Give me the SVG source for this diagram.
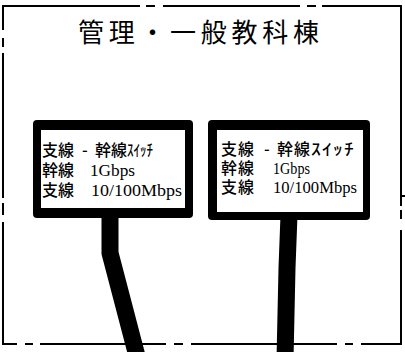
<svg xmlns="http://www.w3.org/2000/svg" width="405" height="352" viewBox="0 0 405 352">
<style>
.bd{stroke:#000;stroke-width:2;fill:none}
.jp{font-family:"Noto Sans CJK JP","Noto Sans",sans-serif;font-size:16px;font-weight:500;fill:#000}
.j2{letter-spacing:1px}
.en{font-family:"Liberation Serif","Times New Roman",serif;font-size:17px;fill:#000}
.title{font-family:"Noto Sans CJK JP","Noto Sans",sans-serif;font-size:26px;letter-spacing:4.7px;fill:#000}
.cable{stroke:#000;stroke-width:17;fill:none;stroke-linejoin:round}
</style>
<rect width="405" height="352" fill="#fff"/>
<g id="building">
<path class="bd" d="M3 6H140M146 6H155M163 6H300M307 6H316M322 6H401"/>
<path class="bd" d="M3 5V30M3 38V47M3 53V198M3 203V215M3 222V345"/>
<path class="bd" d="M401 5V206M401 210V219M401 230V345M401 196H405"/>
<path class="bd" d="M2 344H17M25 344H33M40 344H166M174 344H183M191 344H337M345 344H353M361 344H402"/>
<text class="title" x="78" y="42">管理・一般教科棟</text>
</g>
<g id="connectors">
<path class="cable" d="M110 215V253L138 360"/>
<path class="cable" d="M289 215L287 268L285 360"/>
</g>
<g id="switch1">
<rect x="33" y="120" width="160" height="98" rx="4" fill="#000"/>
<rect x="41" y="130" width="144" height="78" fill="#fff"/>
<text class="jp" x="42" y="156">支線</text>
<text class="jp" x="82" y="156">-</text>
<text class="jp" x="95" y="156">幹線<tspan textLength="26" lengthAdjust="spacingAndGlyphs">ｽｲｯﾁ</tspan></text>
<text class="jp" x="42" y="176">幹線</text>
<text class="en" x="90" y="176" textLength="45" lengthAdjust="spacingAndGlyphs">1Gbps</text>
<text class="jp" x="42" y="196">支線</text>
<text class="en" x="91" y="196" textLength="91" lengthAdjust="spacingAndGlyphs">10/100Mbps</text>
</g>
<g id="switch2">
<rect x="208" y="120" width="162" height="100" rx="4" fill="#000"/>
<rect x="217" y="130" width="146" height="82" fill="#fff"/>
<text class="jp j2" x="221" y="155">支線</text>
<text class="jp" x="264" y="155">-</text>
<text class="jp j2" x="277" y="155">幹線<tspan textLength="44" lengthAdjust="spacingAndGlyphs">ｽｲｯﾁ</tspan></text>
<text class="jp j2" x="221" y="174">幹線</text>
<text class="en" x="273" y="174" textLength="37" lengthAdjust="spacingAndGlyphs">1Gbps</text>
<text class="jp j2" x="221" y="193">支線</text>
<text class="en" x="273" y="193" textLength="84" lengthAdjust="spacingAndGlyphs">10/100Mbps</text>
</g>
</svg>
